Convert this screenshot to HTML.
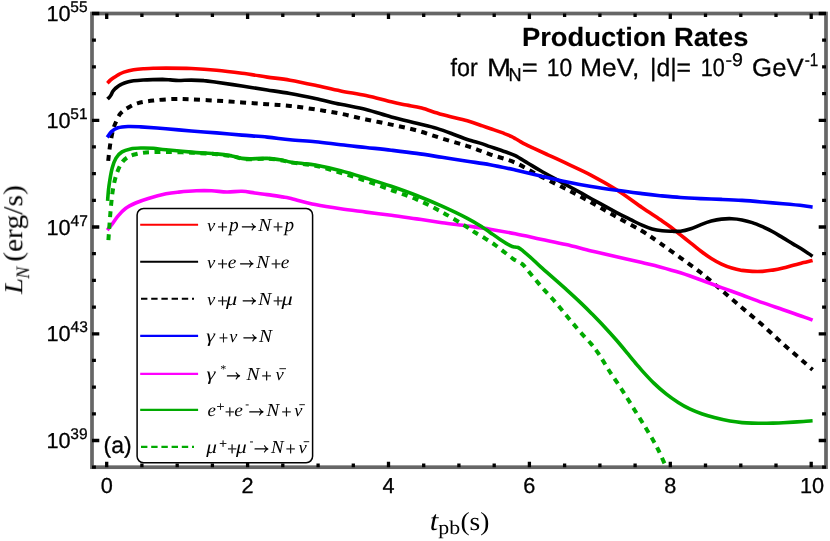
<!DOCTYPE html>
<html><head><meta charset="utf-8"><title>Production Rates</title>
<style>
html,body{margin:0;padding:0;background:#fff;}
body{width:830px;height:541px;overflow:hidden;font-family:"Liberation Sans",sans-serif;}
svg{display:block;}
text{text-rendering:geometricPrecision;}
.sans{font-family:"Liberation Sans",sans-serif;}
.serif{font-family:"Liberation Serif",serif;}
</style></head><body>
<svg width="830" height="541" viewBox="0 0 830 541">
<rect x="0" y="0" width="830" height="541" fill="#ffffff"/>

<defs><clipPath id="plot"><rect x="92.0" y="13.5" width="734.0" height="453.7"/></clipPath></defs>
<g clip-path="url(#plot)" fill="none" stroke-linejoin="round">
<path d="M107.4 83.2C107.9 82.7 109.3 81.0 110.5 80.0C111.7 79.0 112.9 78.2 114.3 77.3C115.7 76.4 117.4 75.3 119.0 74.4C120.6 73.5 121.5 72.9 123.9 72.1C126.3 71.3 130.4 70.2 133.6 69.7C136.8 69.2 139.9 69.0 143.2 68.8C146.5 68.6 149.5 68.4 153.3 68.3C157.1 68.2 159.7 68.1 166.0 68.1C172.3 68.1 182.9 68.1 191.3 68.5C199.7 68.9 208.2 69.5 216.6 70.3C225.0 71.1 233.6 72.2 242.0 73.3C250.4 74.4 259.3 75.9 267.3 77.1C275.3 78.2 282.0 78.8 290.0 80.2C298.0 81.6 306.9 83.5 315.3 85.3C323.8 87.1 332.2 89.2 340.7 90.9C349.1 92.6 357.6 93.7 366.0 95.5C374.4 97.3 384.6 100.2 391.3 101.8C398.1 103.4 401.4 104.0 406.5 105.1C411.6 106.1 415.8 106.5 421.7 108.1C427.6 109.7 434.4 112.4 442.0 114.5C449.6 116.6 460.6 118.9 467.3 120.8C474.1 122.7 478.7 124.6 482.5 125.9C486.3 127.2 486.3 127.2 490.0 128.5C493.7 129.8 500.9 132.2 504.5 133.6C508.1 134.9 509.8 135.7 511.7 136.6C513.6 137.5 514.5 138.2 516.0 139.0C517.5 139.8 518.6 140.6 520.4 141.6C522.1 142.6 524.3 143.8 526.5 144.9C528.7 146.0 529.9 146.5 533.4 148.2C536.9 149.8 542.4 152.3 547.8 154.8C553.2 157.3 558.8 159.8 566.0 163.2C573.2 166.6 582.9 170.9 591.3 175.3C599.7 179.7 608.1 184.4 616.6 189.8C625.1 195.2 634.8 202.6 642.0 207.5C649.2 212.4 655.3 216.3 660.0 219.5C664.7 222.7 666.9 224.1 670.3 226.7C673.7 229.3 677.1 232.2 680.5 234.9C683.9 237.6 687.4 240.4 690.8 243.1C694.2 245.8 697.6 248.7 701.0 251.3C704.4 253.9 707.9 256.4 711.3 258.5C714.7 260.6 718.1 262.6 721.5 264.2C724.9 265.8 728.4 267.1 731.8 268.1C735.2 269.1 738.6 269.8 742.0 270.4C745.4 270.9 748.9 271.2 752.3 271.4C755.7 271.6 759.1 271.6 762.5 271.4C765.9 271.2 769.4 270.7 772.8 270.1C776.2 269.6 779.7 268.9 783.1 268.1C786.5 267.3 789.9 266.1 793.3 265.2C796.7 264.3 800.4 263.4 803.6 262.6C806.8 261.8 811.1 260.8 812.6 260.4" stroke="#ff0000" stroke-width="3.6"/>
<path d="M107.5 99.0C107.8 98.7 108.9 97.8 109.5 97.1C110.1 96.4 110.5 96.0 111.0 95.0C111.5 94.0 112.2 92.4 112.8 91.4C113.4 90.4 114.1 89.7 114.8 89.0C115.5 88.3 116.3 87.7 117.2 87.0C118.1 86.3 119.2 85.5 120.3 84.9C121.4 84.3 122.5 83.7 123.9 83.2C125.3 82.7 126.9 82.1 128.5 81.7C130.1 81.3 131.2 81.1 133.6 80.8C136.0 80.5 140.0 80.2 143.2 80.0C146.4 79.8 149.6 79.7 152.8 79.6C156.0 79.5 159.6 79.4 162.5 79.4C165.4 79.5 167.5 79.7 170.2 79.9C172.9 80.1 175.2 80.5 178.7 80.5C182.2 80.5 187.1 80.1 191.3 80.1C195.5 80.1 199.8 80.2 204.0 80.6C208.2 80.9 210.3 81.3 216.6 82.2C222.9 83.1 233.6 84.7 242.0 86.0C250.4 87.3 259.3 88.8 267.3 90.0C275.3 91.2 282.0 92.1 290.0 93.5C298.0 94.9 306.9 96.7 315.3 98.5C323.8 100.3 332.2 102.5 340.7 104.3C349.1 106.1 357.6 107.3 366.0 109.4C374.4 111.5 382.9 114.7 391.3 117.0C399.7 119.3 409.0 121.4 416.6 123.3C424.2 125.2 430.6 126.5 436.9 128.4C443.2 130.3 449.5 132.8 454.6 134.7C459.7 136.5 462.7 138.0 467.3 139.5C471.9 141.0 478.7 142.7 482.5 143.9C486.3 145.1 486.2 145.3 490.0 146.6C493.8 147.9 501.0 150.3 505.2 151.8C509.4 153.3 511.5 153.7 515.3 155.6C519.1 157.5 523.8 160.7 528.0 163.2C532.2 165.7 534.4 167.2 540.7 170.8C547.0 174.4 557.6 180.0 566.0 184.7C574.4 189.3 582.9 194.0 591.3 198.7C599.7 203.3 609.9 209.0 616.6 212.6C623.4 216.2 627.6 218.1 631.8 220.2C636.0 222.3 638.6 223.7 642.0 225.2C645.4 226.7 648.7 228.1 652.1 229.0C655.5 229.9 658.8 230.4 662.2 230.8C665.6 231.2 669.4 231.2 672.4 231.3C675.4 231.4 677.4 231.6 680.5 231.2C683.6 230.8 687.4 229.8 690.8 228.7C694.2 227.6 697.6 225.9 701.0 224.6C704.4 223.3 707.9 222.0 711.3 221.1C714.7 220.2 718.1 219.5 721.5 219.1C724.9 218.7 728.4 218.6 731.8 218.7C735.2 218.8 738.6 219.2 742.0 219.9C745.4 220.6 748.9 221.5 752.3 222.6C755.7 223.7 759.1 225.2 762.5 226.7C765.9 228.2 769.4 229.9 772.8 231.8C776.2 233.7 779.7 235.9 783.1 237.9C786.5 239.9 789.9 242.1 793.3 244.1C796.7 246.1 800.4 248.2 803.6 250.2C806.8 252.2 811.1 255.3 812.6 256.3" stroke="#000000" stroke-width="3.6"/>
<path d="M108.2 160.9C108.5 158.0 109.5 148.7 110.3 143.7C111.1 138.7 112.0 134.4 112.8 131.0C113.6 127.6 114.0 126.4 115.3 123.5C116.6 120.6 118.3 116.2 120.4 113.6C122.5 111.0 125.0 109.5 128.0 107.7C130.9 106.0 133.9 104.3 138.1 103.1C142.3 101.9 147.4 101.2 153.3 100.5C159.2 99.8 167.3 99.2 173.6 99.0C179.9 98.8 184.1 99.0 191.3 99.3C198.5 99.6 208.2 100.2 216.6 100.7C225.0 101.2 233.6 101.8 242.0 102.4C250.4 103.0 259.3 103.6 267.3 104.2C275.3 104.8 282.0 105.0 290.0 105.9C298.0 106.8 306.9 108.1 315.3 109.4C323.8 110.7 332.2 112.0 340.7 113.7C349.1 115.4 357.6 117.7 366.0 119.5C374.4 121.3 382.9 122.8 391.3 124.6C399.7 126.4 408.2 128.1 416.6 130.4C425.1 132.7 433.6 135.9 442.0 138.5C450.4 141.1 459.3 143.5 467.3 146.1C475.3 148.7 482.0 151.5 490.0 154.3C498.0 157.1 506.8 159.0 515.3 162.7C523.8 166.4 532.2 172.0 540.7 176.4C549.2 180.8 557.6 184.7 566.0 189.0C574.4 193.3 582.9 197.8 591.3 202.5C599.7 207.2 608.1 212.2 616.6 216.9C625.1 221.7 634.8 226.6 642.0 231.0C649.2 235.4 653.6 238.6 660.0 243.1C666.4 247.6 673.7 252.9 680.5 257.8C687.3 262.8 694.2 267.4 701.0 272.8C707.8 278.2 714.7 284.4 721.5 290.2C728.3 296.0 735.2 301.9 742.0 307.7C748.8 313.5 755.6 319.1 762.5 325.1C769.4 331.2 776.2 337.9 783.1 344.0C790.0 350.1 798.7 357.5 803.6 361.8C808.5 366.1 811.1 368.4 812.6 369.7" stroke="#000000" stroke-width="4.0" stroke-dasharray="6 5.5"/>
<path d="M107.2 137.4C107.9 136.4 109.7 133.2 111.5 131.6C113.3 130.0 115.2 128.7 117.9 127.8C120.7 127.0 124.2 126.7 128.0 126.5C131.8 126.3 134.4 126.5 140.7 126.9C147.0 127.3 157.6 128.1 166.0 128.8C174.4 129.5 182.9 130.3 191.3 131.0C199.7 131.7 208.2 132.2 216.6 132.9C225.0 133.6 233.6 134.4 242.0 135.1C250.4 135.8 259.3 136.3 267.3 137.1C275.3 137.9 282.0 139.0 290.0 139.8C298.0 140.6 306.9 140.9 315.3 141.7C323.8 142.5 332.2 143.8 340.7 144.8C349.1 145.8 357.6 146.6 366.0 147.5C374.4 148.4 382.9 149.2 391.3 150.2C399.7 151.2 408.2 152.2 416.6 153.4C425.1 154.6 433.6 156.0 442.0 157.3C450.4 158.6 459.3 160.1 467.3 161.3C475.3 162.5 482.0 163.2 490.0 164.7C498.0 166.1 506.8 168.1 515.3 170.0C523.8 171.9 532.2 174.0 540.7 175.9C549.2 177.8 557.6 179.9 566.0 181.7C574.4 183.5 582.9 185.1 591.3 186.5C599.7 187.9 608.1 189.1 616.6 190.3C625.1 191.5 634.8 192.7 642.0 193.6C649.2 194.5 653.6 195.0 660.0 195.7C666.4 196.3 673.7 197.0 680.5 197.5C687.3 198.0 694.2 198.3 701.0 198.6C707.8 198.9 714.7 199.1 721.5 199.4C728.3 199.7 735.2 200.0 742.0 200.4C748.8 200.8 755.6 201.4 762.5 202.0C769.4 202.6 776.2 203.1 783.1 203.7C790.0 204.3 798.7 205.1 803.6 205.7C808.5 206.3 811.1 206.9 812.6 207.1" stroke="#0000ff" stroke-width="3.6"/>
<path d="M107.2 230.1C107.9 229.2 109.7 227.3 111.5 225.0C113.3 222.7 115.6 218.8 117.9 216.1C120.2 213.3 122.5 210.7 125.5 208.5C128.4 206.3 131.8 204.7 135.6 203.0C139.4 201.3 143.2 199.9 148.3 198.4C153.4 196.9 160.9 194.9 166.0 193.8C171.1 192.8 173.6 192.6 178.7 192.1C183.8 191.6 190.9 191.0 196.4 190.8C201.9 190.6 206.5 190.6 211.6 190.8C216.7 191.0 221.7 191.9 226.8 192.0C231.9 192.1 237.4 191.1 242.0 191.3C246.6 191.5 250.4 192.4 254.6 193.0C258.8 193.6 262.7 193.9 267.3 194.6C271.9 195.2 278.7 196.3 282.5 196.9C286.3 197.5 284.5 197.0 290.0 198.3C295.5 199.6 306.9 202.8 315.3 204.5C323.8 206.2 332.2 207.5 340.7 208.8C349.1 210.1 357.6 211.0 366.0 212.1C374.4 213.2 382.9 214.2 391.3 215.3C399.7 216.4 408.2 217.7 416.6 218.9C425.1 220.1 433.6 221.5 442.0 222.7C450.4 223.9 459.3 224.9 467.3 226.0C475.3 227.1 482.0 227.9 490.0 229.2C498.0 230.5 506.8 232.1 515.3 233.8C523.8 235.5 532.2 237.4 540.7 239.2C549.2 241.0 557.6 242.6 566.0 244.5C574.4 246.4 582.9 248.9 591.3 250.9C599.7 252.9 608.1 254.8 616.6 256.7C625.1 258.6 634.8 260.9 642.0 262.6C649.2 264.3 653.6 265.2 660.0 266.9C666.4 268.6 673.7 270.6 680.5 272.8C687.3 275.0 694.2 277.5 701.0 280.0C707.8 282.5 714.7 285.1 721.5 287.6C728.3 290.1 735.2 292.5 742.0 295.0C748.8 297.5 755.6 300.2 762.5 302.6C769.4 305.1 776.2 307.3 783.1 309.7C790.0 312.1 798.7 315.1 803.6 316.9C808.5 318.6 811.1 319.6 812.6 320.2" stroke="#ff00ff" stroke-width="3.6"/>
<path d="M107.6 200.9C107.8 198.4 108.2 191.2 109.0 185.7C109.8 180.2 111.0 172.6 112.2 168.0C113.4 163.4 114.4 160.8 116.0 158.1C117.6 155.4 119.6 153.4 122.0 151.9C124.4 150.4 127.4 149.6 130.5 148.9C133.6 148.2 136.9 148.1 140.7 148.0C144.5 147.9 149.1 148.0 153.3 148.3C157.5 148.6 159.7 149.2 166.0 149.8C172.3 150.4 182.9 151.4 191.3 152.1C199.7 152.8 209.8 153.3 216.6 153.9C223.3 154.5 227.6 155.2 231.8 155.9C236.0 156.7 239.0 157.9 242.0 158.4C245.0 158.9 245.4 158.9 249.6 158.9C253.8 158.9 261.8 158.2 267.3 158.4C272.8 158.6 278.7 159.6 282.5 160.2C286.3 160.8 286.6 161.4 290.0 162.0C293.4 162.6 298.5 163.0 302.7 163.5C306.9 164.0 309.0 163.9 315.3 165.1C321.6 166.3 332.2 168.5 340.7 170.7C349.1 172.9 357.6 175.6 366.0 178.2C374.4 180.8 382.9 183.4 391.3 186.3C399.7 189.2 408.2 192.2 416.6 195.5C425.1 198.8 433.6 202.4 442.0 206.2C450.4 210.0 460.6 214.9 467.3 218.4C474.1 221.9 478.7 224.9 482.5 227.2C486.3 229.5 487.1 230.4 490.0 232.4C492.9 234.4 496.7 237.2 500.1 239.4C503.5 241.6 507.8 244.3 510.3 245.6C512.8 246.9 513.7 246.8 515.0 247.1C516.3 247.4 516.9 246.9 518.2 247.5C519.5 248.1 520.5 248.9 522.9 250.8C525.2 252.7 529.3 256.3 532.3 259.0C535.3 261.7 535.1 261.9 540.7 266.9C546.3 271.9 559.5 283.3 566.0 289.2C572.5 295.1 575.7 298.0 580.0 302.1C584.3 306.2 588.0 309.8 592.0 313.9C596.0 318.0 600.1 322.2 604.1 326.5C608.1 330.8 612.1 335.2 616.1 339.8C620.1 344.4 624.8 350.1 628.2 354.2C631.6 358.3 634.3 361.6 636.6 364.3C638.9 367.0 639.1 367.4 642.0 370.6C644.9 373.8 650.1 379.5 654.1 383.4C658.1 387.3 662.1 390.7 666.1 393.9C670.1 397.1 674.2 399.9 678.2 402.5C682.2 405.1 686.2 407.3 690.2 409.2C694.2 411.1 698.3 412.6 702.3 414.0C706.3 415.4 709.7 416.4 714.3 417.6C718.9 418.8 725.3 420.3 729.9 421.1C734.5 421.9 738.3 422.3 742.0 422.6C745.7 422.9 748.9 423.0 752.3 423.1C755.7 423.2 759.1 423.3 762.5 423.3C765.9 423.3 769.4 423.2 772.8 423.1C776.2 423.0 779.7 422.9 783.1 422.7C786.5 422.5 789.9 422.3 793.3 422.1C796.7 421.9 800.4 421.7 803.6 421.5C806.8 421.3 811.1 420.9 812.6 420.8" stroke="#00aa00" stroke-width="3.6"/>
<path d="M108.4 240.2C108.8 234.5 110.1 215.1 111.0 206.0C111.9 196.9 112.5 191.4 113.6 185.7C114.7 180.0 115.9 175.8 117.4 171.8C118.9 167.8 120.6 164.4 122.4 161.9C124.2 159.4 126.2 158.1 128.4 156.8C130.6 155.5 132.7 154.9 135.6 154.2C138.5 153.5 140.6 152.8 145.7 152.4C150.8 152.0 158.4 151.9 166.0 152.0C173.6 152.1 182.9 152.3 191.3 152.7C199.7 153.1 209.8 153.6 216.6 154.2C223.3 154.8 227.6 155.4 231.8 156.2C236.0 156.9 239.0 158.2 242.0 158.7C245.0 159.2 245.4 159.2 249.6 159.2C253.8 159.2 261.8 158.5 267.3 158.7C272.8 158.9 278.7 159.9 282.5 160.5C286.3 161.1 284.5 161.5 290.0 162.4C295.5 163.3 306.9 164.1 315.3 165.8C323.8 167.5 332.2 170.3 340.7 172.8C349.1 175.3 357.6 178.0 366.0 180.9C374.4 183.8 382.9 186.9 391.3 190.0C399.7 193.1 408.2 195.7 416.6 199.4C425.1 203.1 433.6 207.5 442.0 212.1C450.4 216.7 461.8 223.8 467.3 227.2C472.8 230.6 472.1 230.6 475.1 232.5C478.1 234.4 482.0 236.5 485.3 238.6C488.6 240.7 491.8 242.6 494.9 244.8C498.0 247.0 501.0 249.5 504.0 251.8C507.0 254.1 510.0 256.8 513.0 258.8C516.0 260.8 519.5 261.9 522.0 263.9C524.5 265.9 524.9 267.0 528.0 270.7C531.1 274.4 536.5 281.0 540.7 285.9C544.9 290.8 549.1 294.9 553.3 299.8C557.5 304.7 561.8 309.9 566.0 315.0C570.2 320.1 574.5 325.3 578.7 330.2C582.9 335.1 587.9 340.1 591.3 344.1C594.7 348.1 595.9 349.8 598.9 354.2C601.9 358.6 605.2 364.6 609.0 370.5C612.8 376.4 617.5 383.0 621.7 389.5C625.9 396.0 630.2 402.9 634.4 409.7C638.6 416.4 643.2 423.7 647.0 430.0C650.8 436.3 654.2 442.0 657.2 447.7C660.2 453.4 663.5 461.4 664.8 464.2" stroke="#00aa00" stroke-width="4.0" stroke-dasharray="6 5.5"/>
</g>
<rect x="92.0" y="13.5" width="734.0" height="453.7" fill="none" stroke="#666666" stroke-width="3.7"/>
<path d="M106.7 467.3 v-5.5M106.7 13.4 v5.5M141.9 467.3 v-3.7M141.9 13.4 v3.7M177.2 467.3 v-3.7M177.2 13.4 v3.7M212.4 467.3 v-3.7M212.4 13.4 v3.7M247.6 467.3 v-5.5M247.6 13.4 v5.5M282.8 467.3 v-3.7M282.8 13.4 v3.7M318.1 467.3 v-3.7M318.1 13.4 v3.7M353.3 467.3 v-3.7M353.3 13.4 v3.7M388.5 467.3 v-5.5M388.5 13.4 v5.5M423.7 467.3 v-3.7M423.7 13.4 v3.7M458.9 467.3 v-3.7M458.9 13.4 v3.7M494.2 467.3 v-3.7M494.2 13.4 v3.7M529.4 467.3 v-5.5M529.4 13.4 v5.5M564.6 467.3 v-3.7M564.6 13.4 v3.7M599.9 467.3 v-3.7M599.9 13.4 v3.7M635.1 467.3 v-3.7M635.1 13.4 v3.7M670.3 467.3 v-5.5M670.3 13.4 v5.5M705.5 467.3 v-3.7M705.5 13.4 v3.7M740.8 467.3 v-3.7M740.8 13.4 v3.7M776.0 467.3 v-3.7M776.0 13.4 v3.7M811.2 467.3 v-5.5M811.2 13.4 v5.5M92.0 467.2 h3.9M826.0 467.2 h-3.9M92.0 440.5 h7.3M826.0 440.5 h-7.3M92.0 413.8 h3.9M826.0 413.8 h-3.9M92.0 387.1 h3.9M826.0 387.1 h-3.9M92.0 360.4 h3.9M826.0 360.4 h-3.9M92.0 333.8 h7.3M826.0 333.8 h-7.3M92.0 307.1 h3.9M826.0 307.1 h-3.9M92.0 280.4 h3.9M826.0 280.4 h-3.9M92.0 253.7 h3.9M826.0 253.7 h-3.9M92.0 227.0 h7.3M826.0 227.0 h-7.3M92.0 200.3 h3.9M826.0 200.3 h-3.9M92.0 173.6 h3.9M826.0 173.6 h-3.9M92.0 146.9 h3.9M826.0 146.9 h-3.9M92.0 120.3 h7.3M826.0 120.3 h-7.3M92.0 93.6 h3.9M826.0 93.6 h-3.9M92.0 66.9 h3.9M826.0 66.9 h-3.9M92.0 40.2 h3.9M826.0 40.2 h-3.9M92.0 13.5 h7.3M826.0 13.5 h-7.3" stroke="#000" stroke-width="3.3" fill="none"/>
<g opacity="0.999">
<text class="sans" x="100.67" y="493.00" font-size="21.70" stroke="#000" stroke-width="0.30" fill="#000">0</text>
<text class="sans" x="241.57" y="493.00" font-size="21.70" stroke="#000" stroke-width="0.30" fill="#000">2</text>
<text class="sans" x="382.53" y="493.00" font-size="21.70" stroke="#000" stroke-width="0.30" fill="#000">4</text>
<text class="sans" x="523.29" y="493.00" font-size="21.70" stroke="#000" stroke-width="0.30" fill="#000">6</text>
<text class="sans" x="664.27" y="493.00" font-size="21.70" stroke="#000" stroke-width="0.30" fill="#000">8</text>
<text class="sans" x="800.03" y="493.00" font-size="21.70" stroke="#000" stroke-width="0.30" fill="#000">10</text>
<text class="sans" x="46.55" y="21.10" font-size="21.70" stroke="#000" stroke-width="0.30" fill="#000">10</text>
<text class="sans" x="70.28" y="12.20" font-size="15.50" stroke="#000" stroke-width="0.30" fill="#000">55</text>
<text class="sans" x="46.55" y="127.85" font-size="21.70" stroke="#000" stroke-width="0.30" fill="#000">10</text>
<text class="sans" x="70.28" y="118.95" font-size="15.50" stroke="#000" stroke-width="0.30" fill="#000">51</text>
<text class="sans" x="46.55" y="234.61" font-size="21.70" stroke="#000" stroke-width="0.30" fill="#000">10</text>
<text class="sans" x="70.54" y="225.71" font-size="15.50" stroke="#000" stroke-width="0.30" fill="#000">47</text>
<text class="sans" x="46.55" y="341.36" font-size="21.70" stroke="#000" stroke-width="0.30" fill="#000">10</text>
<text class="sans" x="70.54" y="332.46" font-size="15.50" stroke="#000" stroke-width="0.30" fill="#000">43</text>
<text class="sans" x="46.55" y="448.11" font-size="21.70" stroke="#000" stroke-width="0.30" fill="#000">10</text>
<text class="sans" x="70.31" y="439.21" font-size="15.50" stroke="#000" stroke-width="0.30" fill="#000">39</text>
<text class="sans" transform="translate(521.97,45.60) scale(1.0400,1.0000)" font-size="26.30" font-weight="bold" stroke="#000" stroke-width="0.15" fill="#000">Production Rates</text>
<text class="sans" transform="translate(450.47,75.70) scale(0.9329,1.0000)" font-size="25.00" stroke="#000" stroke-width="0.30" fill="#000">for</text>
<text class="sans" transform="translate(487.03,75.70) scale(1.1541,1.0000)" font-size="25.00" stroke="#000" stroke-width="0.30" fill="#000">M</text>
<text class="sans" transform="translate(508.42,80.90) scale(0.9774,1.0000)" font-size="18.50" stroke="#000" stroke-width="0.30" fill="#000">N</text>
<text class="sans" transform="translate(521.76,75.70) scale(1.0950,1.0000)" font-size="25.00" stroke="#000" stroke-width="0.30" fill="#000">=</text>
<text class="sans" transform="translate(546.87,75.70) scale(0.9107,1.0000)" font-size="25.00" stroke="#000" stroke-width="0.30" fill="#000">10</text>
<text class="sans" transform="translate(580.03,75.70) scale(1.0564,1.0000)" font-size="25.00" stroke="#000" stroke-width="0.30" fill="#000">MeV,</text>
<text class="sans" transform="translate(649.99,75.70) scale(0.9888,1.0000)" font-size="25.00" stroke="#000" stroke-width="0.30" fill="#000">|d|=</text>
<text class="sans" transform="translate(700.86,75.70) scale(0.8625,1.0000)" font-size="25.00" stroke="#000" stroke-width="0.30" fill="#000">10</text>
<text class="sans" transform="translate(725.53,66.20) scale(1.0575,1.0000)" font-size="18.50" stroke="#000" stroke-width="0.30" fill="#000">-9</text>
<text class="sans" transform="translate(752.11,75.70) scale(1.0297,1.0000)" font-size="25.00" stroke="#000" stroke-width="0.30" fill="#000">GeV</text>
<text class="sans" transform="translate(804.72,66.20) scale(0.8218,1.0000)" font-size="18.50" stroke="#000" stroke-width="0.30" fill="#000">-1</text>
<text class="sans" transform="translate(103.58,452.50) scale(0.9891,1.0000)" font-size="23.20" stroke="#000" stroke-width="0.30" fill="#000">(a)</text>
<g transform="translate(22.2,294.7) rotate(-90)">
<text class="serif" transform="translate(0.64,0.00) scale(1.1244,1.0000)" font-size="25.80" font-style="italic" fill="#000">L</text>
<text class="serif" transform="translate(15.93,7.40) scale(0.9322,1.0000)" font-size="19.20" font-style="italic" fill="#000">N</text>
<text class="serif" transform="translate(32.90,0.00) scale(1.0742,1.0000)" font-size="27.50" fill="#000">(erg/s)</text>
</g>
<text class="serif" transform="translate(429.85,530.00) scale(1.0971,1.0000)" font-size="28.00" font-style="italic" fill="#000">t</text>
<text class="serif" transform="translate(438.25,534.40) scale(1.1224,1.0000)" font-size="19.50" fill="#000">pb</text>
<text class="serif" transform="translate(460.39,530.00) scale(1.0618,1.0000)" font-size="25.90" fill="#000">(s)</text>
<rect x="137.1" y="208.5" width="175.5" height="254.3" rx="6.5" ry="6.5" fill="#ffffff" stroke="#000" stroke-width="1.5"/>
<path d="M140.2 224.8 H198.1" stroke="#ff0000" stroke-width="2.1" fill="none"/>
<path d="M140.2 261.8 H198.1" stroke="#000000" stroke-width="2.1" fill="none"/>
<path d="M141.0 298.8 H194.0" stroke="#000000" stroke-width="2.1" fill="none" stroke-dasharray="6.4 3.8"/>
<path d="M140.2 335.9 H198.1" stroke="#0000ff" stroke-width="2.1" fill="none"/>
<path d="M140.2 373.9 H198.1" stroke="#ff00ff" stroke-width="2.1" fill="none"/>
<path d="M140.2 409.9 H198.1" stroke="#00aa00" stroke-width="2.1" fill="none"/>
<path d="M141.0 446.9 H194.0" stroke="#00aa00" stroke-width="2.1" fill="none" stroke-dasharray="6.4 3.8"/>
<text class="serif" transform="translate(207.05,231.10) scale(1.0567,1.0000)" font-size="17.60" font-style="italic" fill="#000">ν</text><text class="serif" transform="translate(217.27,232.90) scale(1.0106,1.0000)" font-size="18.50" stroke="#000" stroke-width="0.30" fill="#000">+</text><text class="serif" transform="translate(229.03,231.10) scale(0.9901,1.0000)" font-size="19.50" font-style="italic" fill="#000">p</text><path d="M242.30 226.80 H255.20 M252.10 223.70 Q253.20 225.90 255.50 226.80 Q253.20 227.70 252.10 229.90" fill="none" stroke="#000" stroke-width="1.15" stroke-linecap="round" stroke-linejoin="round"/><text class="serif" transform="translate(258.14,231.10) scale(1.0691,1.0000)" font-size="18.30" font-style="italic" fill="#000">N</text><text class="serif" transform="translate(273.01,232.90) scale(0.9641,1.0000)" font-size="18.50" stroke="#000" stroke-width="0.30" fill="#000">+</text><text class="serif" transform="translate(284.42,231.10) scale(0.9804,1.0000)" font-size="19.50" font-style="italic" fill="#000">p</text>
<text class="serif" transform="translate(207.05,268.12) scale(1.0567,1.0000)" font-size="17.60" font-style="italic" fill="#000">ν</text><text class="serif" transform="translate(217.27,269.92) scale(1.0106,1.0000)" font-size="18.50" stroke="#000" stroke-width="0.30" fill="#000">+</text><text class="serif" transform="translate(227.70,268.12) scale(1.0690,1.0000)" font-size="18.20" font-style="italic" fill="#000">e</text><path d="M240.50 263.82 H252.70 M249.60 260.72 Q250.70 262.92 253.00 263.82 Q250.70 264.72 249.60 266.92" fill="none" stroke="#000" stroke-width="1.15" stroke-linecap="round" stroke-linejoin="round"/><text class="serif" transform="translate(256.24,268.12) scale(1.0691,1.0000)" font-size="18.30" font-style="italic" fill="#000">N</text><text class="serif" transform="translate(271.11,269.92) scale(0.9641,1.0000)" font-size="18.50" stroke="#000" stroke-width="0.30" fill="#000">+</text><text class="serif" transform="translate(280.70,268.12) scale(1.0690,1.0000)" font-size="18.20" font-style="italic" fill="#000">e</text>
<text class="serif" transform="translate(207.05,305.14) scale(1.0567,1.0000)" font-size="17.60" font-style="italic" fill="#000">ν</text><text class="serif" transform="translate(217.27,306.94) scale(1.0106,1.0000)" font-size="18.50" stroke="#000" stroke-width="0.30" fill="#000">+</text><text class="serif" transform="translate(226.12,305.14) scale(1.2018,1.0000)" font-size="18.60" font-style="italic" fill="#000">μ</text><path d="M243.10 300.84 H255.20 M252.10 297.74 Q253.20 299.94 255.50 300.84 Q253.20 301.74 252.10 303.94" fill="none" stroke="#000" stroke-width="1.15" stroke-linecap="round" stroke-linejoin="round"/><text class="serif" transform="translate(258.14,305.14) scale(1.0691,1.0000)" font-size="18.30" font-style="italic" fill="#000">N</text><text class="serif" transform="translate(273.01,306.94) scale(0.9641,1.0000)" font-size="18.50" stroke="#000" stroke-width="0.30" fill="#000">+</text><text class="serif" transform="translate(281.62,305.14) scale(1.2018,1.0000)" font-size="18.60" font-style="italic" fill="#000">μ</text>
<text class="serif" transform="translate(206.30,342.16) scale(1.1889,1.0000)" font-size="18.60" font-style="italic" fill="#000">γ</text><text class="serif" transform="translate(219.11,343.96) scale(0.8596,1.0000)" font-size="18.50" stroke="#000" stroke-width="0.30" fill="#000">+</text><text class="serif" transform="translate(229.25,342.16) scale(1.0302,1.0000)" font-size="17.60" font-style="italic" fill="#000">ν</text><path d="M243.80 337.86 H255.90 M252.80 334.76 Q253.90 336.96 256.20 337.86 Q253.90 338.76 252.80 340.96" fill="none" stroke="#000" stroke-width="1.15" stroke-linecap="round" stroke-linejoin="round"/><text class="serif" transform="translate(259.04,342.16) scale(1.0615,1.0000)" font-size="18.30" font-style="italic" fill="#000">N</text>
<text class="serif" transform="translate(206.39,380.18) scale(1.2159,1.0000)" font-size="18.60" font-style="italic" fill="#000">γ</text><text class="serif" transform="translate(220.31,372.98) scale(1.0124,1.0000)" font-size="12.00" fill="#000">*</text><path d="M227.40 375.88 H239.30 M236.20 372.78 Q237.30 374.98 239.60 375.88 Q237.30 376.78 236.20 378.98" fill="none" stroke="#000" stroke-width="1.15" stroke-linecap="round" stroke-linejoin="round"/><text class="serif" transform="translate(246.54,380.18) scale(1.0691,1.0000)" font-size="18.30" font-style="italic" fill="#000">N</text><text class="serif" transform="translate(261.50,381.98) scale(0.9758,1.0000)" font-size="18.50" stroke="#000" stroke-width="0.30" fill="#000">+</text><text class="serif" transform="translate(275.45,380.18) scale(1.0567,1.0000)" font-size="17.60" font-style="italic" fill="#000">ν</text><path d="M279.4 368.7 H286.0" stroke="#000" stroke-width="0.9"/>
<text class="serif" transform="translate(207.42,416.20) scale(1.0409,1.0000)" font-size="18.20" font-style="italic" fill="#000">e</text><text class="serif" transform="translate(216.59,410.60) scale(1.0745,1.0000)" font-size="13.20" stroke="#000" stroke-width="0.25" fill="#000">+</text><text class="serif" transform="translate(224.95,418.00) scale(0.9177,1.0000)" font-size="18.50" stroke="#000" stroke-width="0.30" fill="#000">+</text><text class="serif" transform="translate(234.20,416.20) scale(1.0690,1.0000)" font-size="18.20" font-style="italic" fill="#000">e</text><text class="serif" transform="translate(245.27,408.40) scale(0.8884,1.0000)" font-size="13.00" fill="#000">-</text><path d="M249.70 411.90 H262.70 M259.60 408.80 Q260.70 411.00 263.00 411.90 Q260.70 412.80 259.60 415.00" fill="none" stroke="#000" stroke-width="1.15" stroke-linecap="round" stroke-linejoin="round"/><text class="serif" transform="translate(266.54,416.20) scale(1.0388,1.0000)" font-size="18.30" font-style="italic" fill="#000">N</text><text class="serif" transform="translate(281.42,418.00) scale(0.9525,1.0000)" font-size="18.50" stroke="#000" stroke-width="0.30" fill="#000">+</text><text class="serif" transform="translate(294.25,416.20) scale(1.0434,1.0000)" font-size="17.60" font-style="italic" fill="#000">ν</text><path d="M299.3 404.7 H304.9" stroke="#000" stroke-width="0.9"/>
<text class="serif" transform="translate(206.32,453.22) scale(1.1446,1.0000)" font-size="18.60" font-style="italic" fill="#000">μ</text><text class="serif" transform="translate(219.33,447.62) scale(1.0257,1.0000)" font-size="13.20" stroke="#000" stroke-width="0.25" fill="#000">+</text><text class="serif" transform="translate(227.34,455.02) scale(0.9293,1.0000)" font-size="18.50" stroke="#000" stroke-width="0.30" fill="#000">+</text><text class="serif" transform="translate(236.12,453.22) scale(1.1446,1.0000)" font-size="18.60" font-style="italic" fill="#000">μ</text><text class="serif" transform="translate(249.56,445.42) scale(0.9180,1.0000)" font-size="13.00" fill="#000">-</text><path d="M255.00 448.92 H267.60 M264.50 445.82 Q265.60 448.02 267.90 448.92 Q265.60 449.82 264.50 452.02" fill="none" stroke="#000" stroke-width="1.15" stroke-linecap="round" stroke-linejoin="round"/><text class="serif" transform="translate(271.04,453.22) scale(1.0312,1.0000)" font-size="18.30" font-style="italic" fill="#000">N</text><text class="serif" transform="translate(285.64,455.02) scale(0.9293,1.0000)" font-size="18.50" stroke="#000" stroke-width="0.30" fill="#000">+</text><text class="serif" transform="translate(298.45,453.22) scale(1.0567,1.0000)" font-size="17.60" font-style="italic" fill="#000">ν</text><path d="M303.7 441.7 H309.2" stroke="#000" stroke-width="0.9"/>
</g>
</svg></body></html>
